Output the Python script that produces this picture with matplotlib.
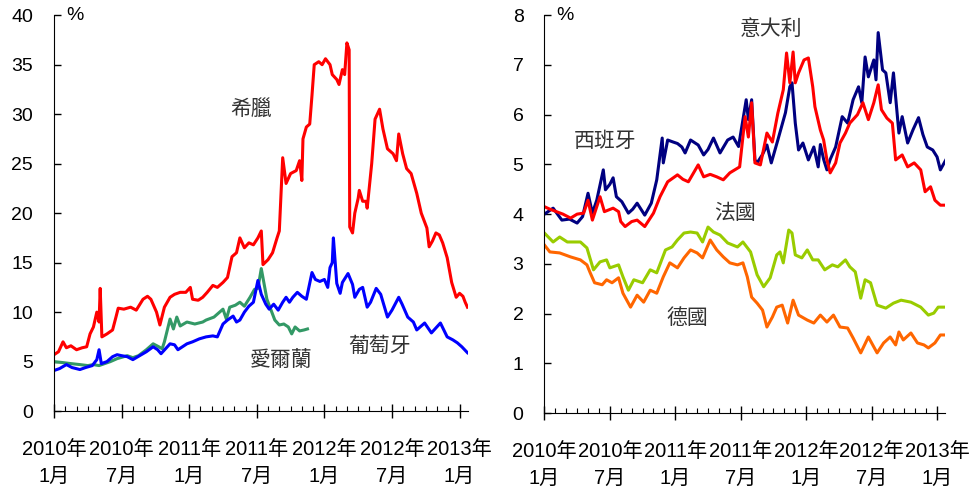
import matplotlib
matplotlib.use("Agg")
import matplotlib.pyplot as plt

plt.rcParams['font.family'] = ['Liberation Sans', 'Noto Sans CJK TC', 'DejaVu Sans']

# months since 2010-01 and yields (%)
gr_m = [0, 0.4, 0.8, 1.1, 1.5, 2.0, 2.5, 2.9, 3.2, 3.5, 3.8, 4.0, 4.1, 4.25, 4.7, 5.2, 5.5, 5.7, 6.2, 6.8,
        7.3, 7.9, 8.3, 8.6, 9.1, 9.4, 9.8, 10.3, 10.7, 11.2, 11.7, 12.1, 12.3, 12.8, 13.2, 13.6, 14.1, 14.5,
        15.0, 15.4, 15.8, 16.2, 16.5, 16.9, 17.3, 17.7, 18.1, 18.4, 18.55, 19.0, 19.4, 19.8, 20.0, 20.3, 20.6,
        21.0, 21.5, 21.8, 22.0, 22.1, 22.4, 22.7, 22.9, 23.1, 23.5, 23.8, 24.1, 24.5, 24.7, 25.1, 25.3, 25.6,
        25.8, 26.0, 26.2, 26.25, 26.5, 26.7, 27.0, 27.1, 27.4, 27.7, 27.8, 28.2, 28.5, 28.9, 29.2, 29.6, 30.1,
        30.4, 30.6, 30.95, 31.3, 31.7, 32.2, 32.6, 33.1, 33.3, 33.6, 33.9, 34.2, 34.5, 34.9, 35.3, 35.7, 36.0,
        36.3, 36.5, 36.7]
gr_v = [5.7, 6.0, 7.0, 6.4, 6.6, 6.2, 6.4, 6.5, 7.8, 8.5, 10.0, 9.0, 12.4, 7.5, 7.8, 8.2, 9.5, 10.4, 10.3, 10.5,
        10.2, 11.3, 11.6, 11.3, 10.0, 8.7, 10.5, 11.5, 11.8, 12.0, 12.0, 12.5, 11.3, 11.2, 11.5, 12.0, 12.7, 12.5,
        13.0, 13.5, 15.6, 16.0, 17.5, 16.5, 17.0, 16.8, 17.5, 18.2, 14.8, 15.3, 16.0, 17.5, 18.2, 25.6, 23.0,
        24.0, 24.3, 25.3, 23.3, 27.5, 28.7, 29.0, 31.9, 35.0, 35.3, 35.0, 35.6, 35.0, 34.0, 33.5, 33.0, 34.5,
        34.0, 37.2, 36.5, 18.6, 18.0, 20.0, 21.5, 22.3, 21.2, 21.2, 20.5, 25.0, 29.5, 30.5, 28.5, 26.5, 26.0,
        25.3, 28.0, 26.0, 24.5, 24.0, 22.0, 20.0, 18.5, 16.6, 17.2, 18.0, 17.8, 17.0, 15.5, 13.0, 11.5, 11.9,
        11.6, 11.0, 10.5]

ie_m = [0, 0.8, 1.5, 2.3, 3.0, 3.5, 4.0, 4.5, 5.0, 5.6, 6.5, 7.0, 7.5, 8.2, 8.8, 9.3, 9.6, 9.8, 10.3, 10.6,
        10.9, 11.2, 11.8, 12.5, 13.2, 13.5, 14.2, 15.0, 15.3, 15.6, 16.1, 16.5, 16.9, 17.4, 17.8, 18.1, 18.4,
        18.9, 19.2, 19.6, 20.0, 20.4, 20.8, 21.1, 21.4, 21.8, 22.2, 22.5]
ie_v = [5.0, 4.9, 4.8, 4.7, 4.6, 4.7, 4.6, 4.8, 5.0, 5.3, 5.6, 5.4, 5.6, 6.2, 6.8, 6.5, 6.3, 7.0, 9.3, 8.3,
        9.5, 8.6, 9.0, 8.8, 9.0, 9.2, 9.5, 10.3, 9.3, 10.5, 10.7, 11.0, 10.6, 11.5, 12.3, 12.4, 14.4,
        11.3, 10.4, 9.2, 8.7, 8.8, 8.5, 7.8, 8.5, 8.1, 8.2, 8.3]

pt_m = [0, 0.5, 1.1, 1.6, 2.3, 2.8, 3.4, 3.8, 4.0, 4.2, 4.7, 5.2, 5.6, 6.0, 6.5, 7.0, 7.6, 8.2, 8.8, 9.2, 9.5,
        9.9, 10.3, 10.7, 11.0, 11.4, 11.8, 12.3, 12.9, 13.5, 14.1, 14.5, 15.0, 15.4, 15.9, 16.2, 16.5, 16.9,
        17.3, 17.7, 18.1, 18.4, 18.8, 19.1, 19.5, 19.9, 20.3, 20.6, 20.9, 21.2, 21.6, 22.0, 22.4, 22.9, 23.2,
        23.6, 24.0, 24.3, 24.5, 24.7, 24.8, 25.1, 25.4, 25.6, 26.1, 26.5, 26.7, 27.1, 27.4, 27.8, 28.1, 28.6,
        29.0, 29.6, 30.0, 30.6, 30.9, 31.4, 31.9, 32.2, 32.9, 33.5, 34.3, 34.9, 35.4, 35.8, 36.2, 36.7]
pt_v = [4.1, 4.3, 4.7, 4.4, 4.2, 4.4, 4.6, 5.2, 6.2, 4.8, 5.0, 5.5, 5.7, 5.6, 5.5, 5.2, 5.6, 6.0, 6.5, 6.2, 5.8,
        6.3, 6.8, 6.7, 6.2, 6.5, 6.8, 7.0, 7.3, 7.5, 7.6, 7.5, 8.8, 9.2, 9.6, 9.0, 9.2, 10.0,
        10.6, 11.0, 13.2, 11.8, 10.8, 10.3, 10.8, 10.2, 11.0, 11.5, 11.0, 11.5, 12.0, 11.6, 11.3, 14.0, 13.3,
        13.1, 13.3, 12.5, 14.5, 15.0, 17.5, 12.9, 11.9, 13.0, 13.9, 12.8, 11.5, 12.3, 12.5, 10.5, 11.0, 12.4,
        11.8, 9.5, 10.2, 11.5, 10.8, 9.5, 9.0, 8.2, 8.9, 7.9, 8.9, 7.5, 7.2, 6.9, 6.5, 5.9]

es_m = [0, 0.8, 1.6, 2.3, 3.0, 3.5, 4.0, 4.4, 4.8, 5.4, 5.6, 6.0, 6.3, 6.6, 7.1, 7.7, 8.1, 8.5, 9.2, 9.8,
        10.3, 10.8, 10.9, 11.3, 11.8, 12.2, 12.6, 12.9, 13.4, 14.1, 14.6, 15.0, 15.5, 16.1, 16.8, 17.3, 17.8,
        18.3, 18.5, 18.7, 19.0, 19.3, 19.5, 20.0, 20.4, 20.8, 21.4, 22.1, 22.5, 22.7, 23.0, 23.3, 23.7, 24.2,
        24.7, 25.1, 25.3, 25.6, 25.9, 26.2, 26.7, 27.3, 27.8, 28.3, 28.8, 29.1, 29.4, 29.7, 30.2, 30.4, 30.6,
        31.0, 31.3, 31.7, 32.0, 32.5, 32.8, 33.3, 33.8, 34.3, 34.7, 35.1, 35.6, 36.0, 36.3, 36.8]
es_v = [4.0, 4.12, 3.88, 3.9, 3.82, 3.95, 4.42, 4.02, 4.28, 4.89, 4.49, 4.6, 4.73, 4.35, 4.25, 4.02, 4.1, 4.22,
        3.98, 4.22, 4.69, 5.53, 5.03, 5.49, 5.45, 5.42, 5.35, 5.23, 5.49, 5.39, 5.19, 5.3, 5.53, 5.23, 5.49,
        5.55, 5.36, 6.03, 6.30, 5.9, 6.3, 5.09, 5.03, 5.2, 5.39, 5.03, 5.49, 6.04, 6.56, 6.64, 5.83, 5.29,
        5.43, 5.09, 5.35, 4.95, 5.4, 5.1, 4.89, 5.1, 5.35, 5.96, 5.83, 6.30, 6.56, 6.24, 7.16, 6.76, 7.10,
        6.70, 7.65, 6.9, 6.84, 6.24, 6.84, 5.63, 5.96, 5.43, 5.7, 5.94, 5.6, 5.35, 5.29, 5.15, 4.89, 5.09]

it_m = [0, 0.5, 1.1, 1.7, 2.4, 3.0, 3.6, 4.0, 4.4, 5.1, 5.5, 6.3, 6.8, 7.0, 7.4, 8.0, 8.5, 9.2, 10.0, 10.6,
        11.3, 12.2, 12.7, 13.2, 14.1, 14.6, 15.2, 15.8, 16.4, 17.0, 17.9, 18.4, 18.7, 19.0, 19.3, 19.8, 20.4,
        20.9, 21.4, 21.9, 22.2, 22.5, 22.8, 23.0, 23.3, 23.8, 24.2, 24.6, 24.8, 25.3, 25.6, 25.9, 26.2, 26.7,
        27.1, 27.6, 28.0, 28.7, 29.2, 29.7, 30.2, 30.6, 30.9, 31.4, 31.9, 32.2, 32.8, 33.3, 33.9, 34.5, 34.9,
        35.4, 35.8, 36.3, 36.8]
it_v = [4.15, 4.1, 4.05, 4.0, 3.92, 4.0, 4.02, 4.28, 3.88, 4.35, 4.05, 4.12, 4.05, 3.85, 3.75, 3.85, 3.88, 3.75,
        4.02, 4.35, 4.65, 4.79, 4.7, 4.65, 4.99, 4.75, 4.8, 4.75, 4.69, 4.83, 4.95, 5.96, 5.55, 6.24, 5.03,
        4.99, 5.63, 5.45, 6.03, 6.50, 7.24, 6.64, 7.26, 6.64, 6.84, 7.10, 7.14, 6.56, 6.16, 5.69, 5.49, 5.09,
        4.83, 5.03, 5.43, 5.63, 5.83, 6.00, 6.24, 5.90, 6.24, 6.60, 6.10, 5.93, 5.83, 5.09, 5.19, 4.95, 5.03,
        4.89, 4.45, 4.55, 4.28, 4.18, 4.18]

fr_m = [0, 0.8, 1.4, 2.1, 3.3, 3.9, 4.5, 5.1, 5.7, 6.0, 6.8, 7.2, 7.7, 8.2, 9.0, 9.7, 10.3, 11.1, 11.7, 12.2,
        12.8, 13.4, 14.0, 14.5, 15.0, 15.5, 16.1, 16.8, 17.7, 18.2, 18.9, 19.5, 20.1, 20.7, 21.3, 21.6, 21.9,
        22.4, 22.7, 23.0, 23.6, 24.1, 24.6, 25.1, 25.7, 26.4, 26.9, 27.6, 28.0, 28.5, 29.0, 29.4, 29.9, 30.5,
        31.3, 32.0, 32.7, 33.6, 34.5, 35.2, 35.7, 36.1, 36.8]
fr_v = [3.62, 3.44, 3.54, 3.44, 3.44, 3.32, 2.88, 3.04, 3.08, 2.92, 2.98, 2.74, 2.47, 2.68, 2.62, 2.88, 2.82,
        3.28, 3.34, 3.48, 3.62, 3.64, 3.62, 3.44, 3.74, 3.64, 3.58, 3.42, 3.34, 3.44, 3.24, 2.78, 2.54, 2.72,
        3.18, 3.24, 3.02, 3.68, 3.62, 3.18, 3.12, 3.28, 3.08, 3.08, 2.88, 2.98, 2.94, 3.08, 2.94, 2.84, 2.31,
        2.68, 2.62, 2.17, 2.11, 2.21, 2.27, 2.23, 2.13, 1.97, 2.01, 2.13, 2.13]

de_m = [0, 0.5, 1.4, 2.4, 3.3, 3.9, 4.2, 4.6, 5.3, 5.7, 6.2, 6.8, 7.2, 7.9, 8.5, 9.1, 9.7, 10.3, 10.9, 11.5,
        12.2, 12.8, 13.4, 14.0, 14.5, 15.2, 15.8, 16.4, 17.0, 17.7, 18.2, 18.6, 19.0, 19.5, 20.0, 20.4, 20.9,
        21.3, 21.8, 22.3, 22.8, 23.3, 24.1, 24.7, 25.3, 25.9, 26.5, 27.1, 27.8, 28.3, 29.0, 29.7, 30.5, 31.1,
        31.7, 32.2, 32.5, 32.9, 33.6, 34.2, 34.8, 35.2, 35.8, 36.3, 36.8]
de_v = [3.38, 3.24, 3.22, 3.14, 3.08, 2.98, 2.82, 2.62, 2.58, 2.68, 2.62, 2.72, 2.41, 2.13, 2.37, 2.23, 2.47,
        2.41, 2.74, 3.02, 2.92, 3.12, 3.28, 3.22, 3.12, 3.48, 3.28, 3.14, 3.02, 2.98, 3.02, 2.74, 2.33, 2.21,
        2.07, 1.73, 1.93, 2.13, 2.17, 1.81, 2.27, 1.97, 1.87, 1.81, 1.97, 1.83, 1.97, 1.73, 1.71, 1.51, 1.21,
        1.53, 1.21, 1.41, 1.53, 1.37, 1.63, 1.47, 1.61, 1.41, 1.37, 1.31, 1.41, 1.57, 1.57]

tick_labels = ['2010年\n1月', '2010年\n7月', '2011年\n1月', '2011年\n7月',
               '2012年\n1月', '2012年\n7月', '2013年\n1月']

fig = plt.figure(figsize=(9.73, 4.9), dpi=100)
ax1 = fig.add_axes([0.0555, 0.161, 0.4255, 0.808])
ax2 = fig.add_axes([0.5595, 0.157, 0.412, 0.812])

lw = 2.2
ax1.plot(gr_m, gr_v, color='#FF0000', lw=lw)
ax1.plot(ie_m, ie_v, color='#339966', lw=lw)
ax1.plot(pt_m, pt_v, color='#0000FF', lw=lw)

ax2.plot(fr_m, fr_v, color='#99CC00', lw=lw)
ax2.plot(de_m, de_v, color='#FF6600', lw=lw)
ax2.plot(es_m, es_v, color='#000080', lw=lw)
ax2.plot(it_m, it_v, color='#FF0000', lw=lw)

for ax, top in [(ax1, 40), (ax2, 8)]:
    ax.set_xlim(0, 36.75)
    ax.set_ylim(0, top)
    ax.spines['top'].set_visible(False)
    ax.spines['right'].set_visible(False)
    ax.set_xticks(range(0, 37, 6))
    ax.set_xticks(range(0, 37), minor=True)
    ax.set_xticklabels(tick_labels, fontsize=14.5, linespacing=1.5)
    ax.tick_params(axis='x', which='major', direction='inout', length=10, width=1, pad=16)
    ax.tick_params(axis='x', which='minor', direction='in', length=3.5, width=0.8)
    ax.tick_params(axis='y', direction='in', length=5, width=1, pad=15, labelsize=14)
    ax.text(0.03, 1.0, '%', transform=ax.transAxes, fontsize=14, va='center', ha='left')

ax1.set_yticks(range(0, 41, 5))
ax2.set_yticks(range(0, 9, 1))

tc = '#333333'
fs = 15
ax1.text(17.5, 30.5, '希臘', fontsize=fs, color=tc, ha='center', va='center')
ax1.text(20.2, 5.2, '愛爾蘭', fontsize=fs, color=tc, ha='center', va='center')
ax1.text(28.9, 6.5, '葡萄牙', fontsize=fs, color=tc, ha='center', va='center')

ax2.text(20.8, 7.72, '意大利', fontsize=fs, color=tc, ha='center', va='center')
ax2.text(5.6, 5.47, '西班牙', fontsize=fs, color=tc, ha='center', va='center')
ax2.text(17.5, 4.02, '法國', fontsize=fs, color=tc, ha='center', va='center')
ax2.text(13.1, 1.91, '德國', fontsize=fs, color=tc, ha='center', va='center')

fig.savefig('out.png', dpi=100)
